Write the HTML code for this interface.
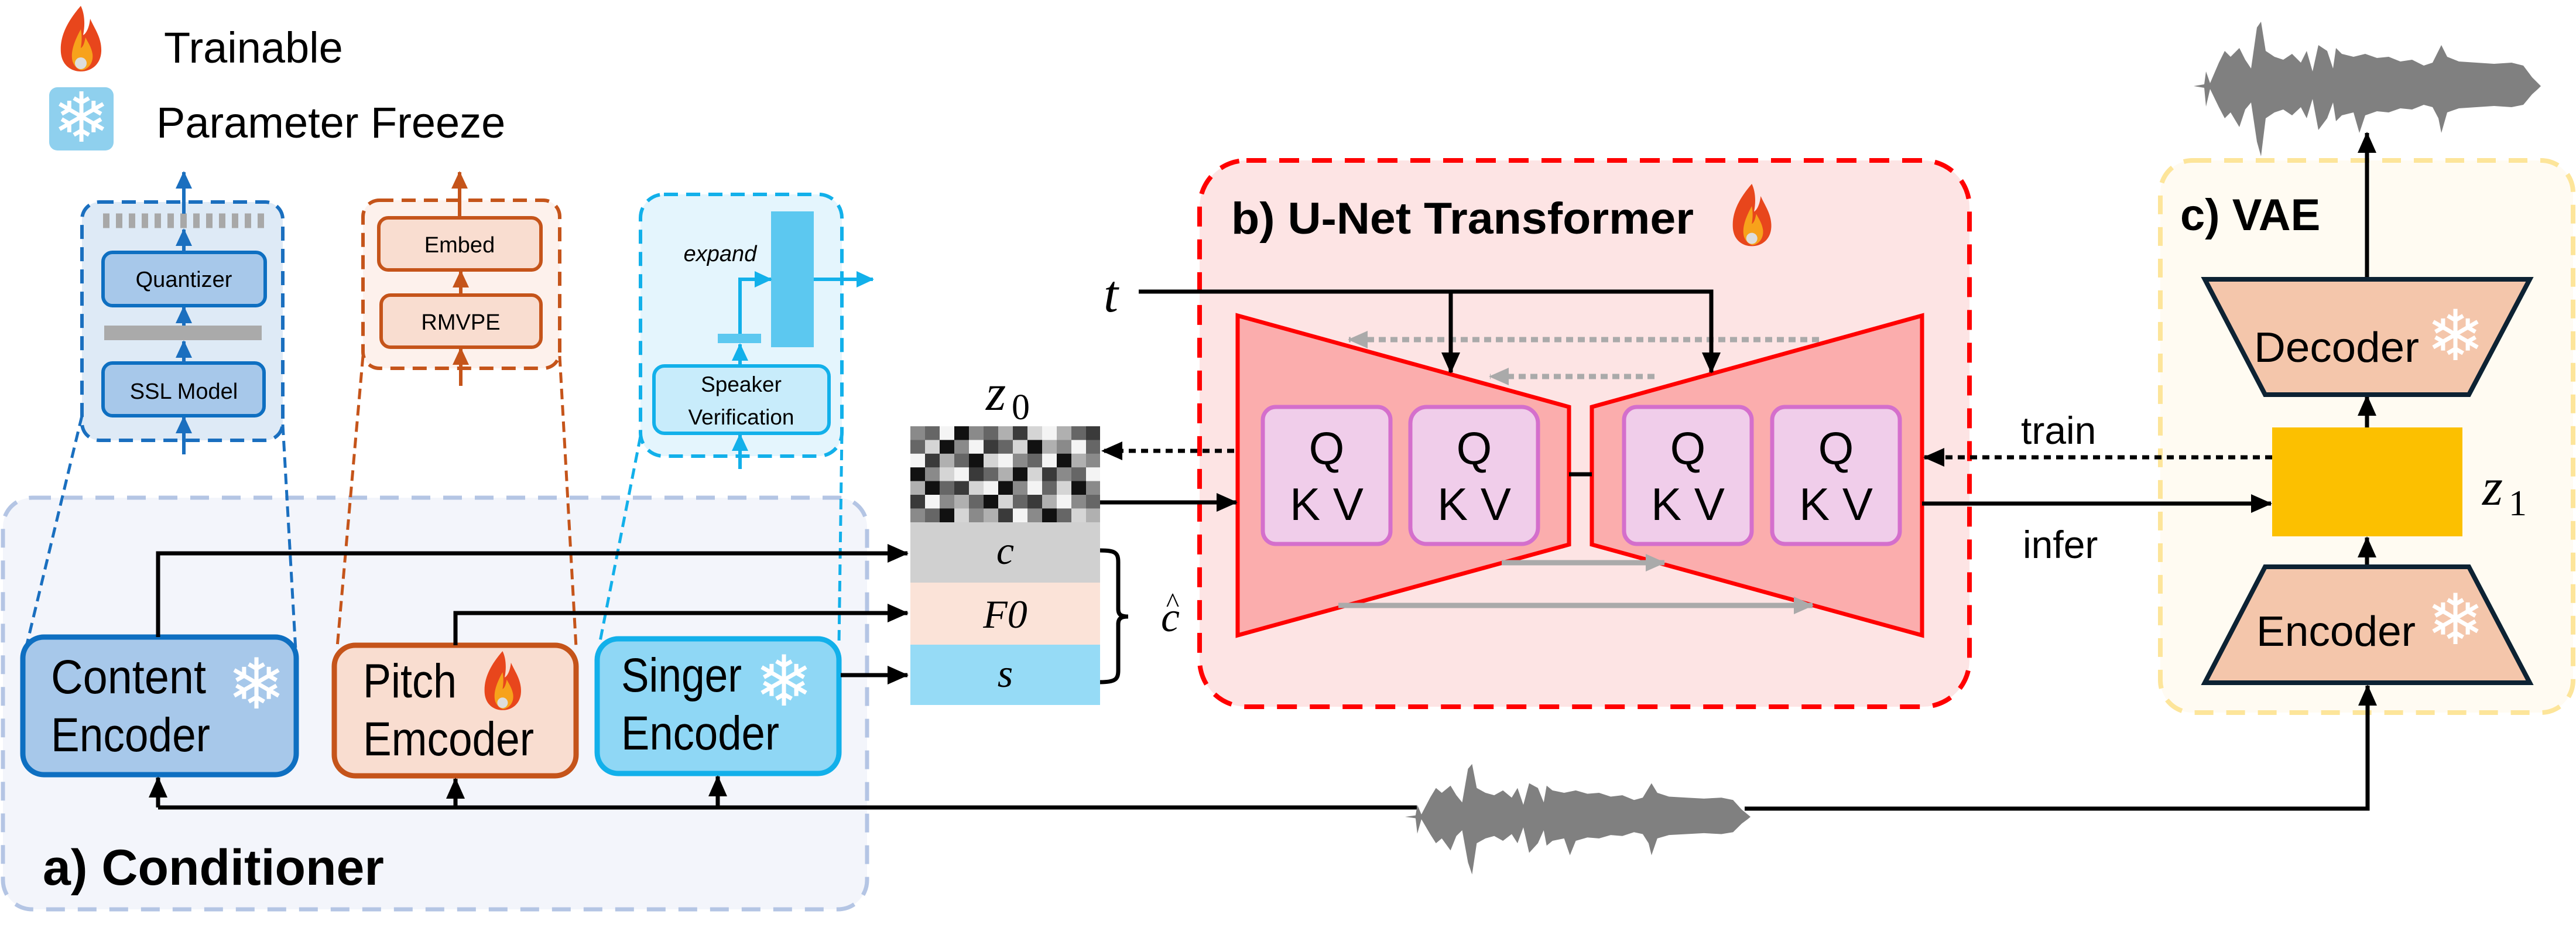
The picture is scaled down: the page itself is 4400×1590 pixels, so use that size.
<!DOCTYPE html>
<html><head><meta charset="utf-8"><style>html,body{margin:0;padding:0;background:#fff}svg{display:block}</style></head><body>
<svg width="4400" height="1590" viewBox="0 0 4400 1590" xmlns="http://www.w3.org/2000/svg" font-family="Liberation Sans, sans-serif">
<defs>
<marker id="ab" markerUnits="userSpaceOnUse" markerWidth="36" markerHeight="32" refX="34" refY="16" orient="auto"><path d="M0,0 L36,16 L0,32 Z" fill="#000"/></marker>
<marker id="ag" markerUnits="userSpaceOnUse" markerWidth="34" markerHeight="30" refX="32" refY="15" orient="auto"><path d="M0,0 L34,15 L0,30 Z" fill="#aaa"/></marker>
<marker id="abl" markerUnits="userSpaceOnUse" markerWidth="30" markerHeight="28" refX="28" refY="14" orient="auto"><path d="M0,0 L30,14 L0,28 Z" fill="#1a6fbf"/></marker>
<marker id="aor" markerUnits="userSpaceOnUse" markerWidth="30" markerHeight="28" refX="28" refY="14" orient="auto"><path d="M0,0 L30,14 L0,28 Z" fill="#c5541a"/></marker>
<marker id="acy" markerUnits="userSpaceOnUse" markerWidth="30" markerHeight="28" refX="28" refY="14" orient="auto"><path d="M0,0 L30,14 L0,28 Z" fill="#12b0ea"/></marker>
</defs>

<!-- legend -->
<g transform="translate(102,10)">
<path d="M36,0 C10,30 0,55 2,80 C4,102 20,112 36,112 C54,112 70,100 71,78 C72,55 60,40 52,22 C50,40 44,48 40,50 C44,30 42,12 36,0 Z" fill="#e8461c"/>
<path d="M36,40 C24,62 18,80 22,95 C26,106 34,110 38,110 C50,108 58,96 56,82 C54,70 48,62 44,54 C42,64 40,70 36,72 C38,60 38,50 36,40 Z" fill="#f7a21b"/>
<circle cx="36" cy="98" r="10" fill="#ddd"/>
</g>
<text x="280" y="107" font-size="74">Trainable</text>
<rect x="84" y="149" width="110" height="108" rx="14" fill="#8fd0ee"/>
<text x="139" y="242" font-size="118" fill="#fff" text-anchor="middle">❄</text>
<text x="267" y="235" font-size="74">Parameter Freeze</text>

<!-- conditioner -->
<rect x="5" y="850" width="1476" height="703" rx="50" fill="#f3f5fb" stroke="#b4c5e4" stroke-width="7" stroke-dasharray="32,22"/>

<!-- content detail -->
<rect x="140" y="345" width="343" height="407" rx="30" fill="#deeaf6" stroke="#1a6fbf" stroke-width="6" stroke-dasharray="24,14"/>
<line x1="176" y1="377" x2="451" y2="377" stroke="#a8a8a8" stroke-width="25" stroke-dasharray="11,11"/>
<rect x="176" y="431" width="277" height="91" rx="16" fill="#a7c8ea" stroke="#0e6fc1" stroke-width="6"/>
<text x="314" y="490" font-size="38" text-anchor="middle">Quantizer</text>
<rect x="178" y="556" width="269" height="25" fill="#aaa"/>
<rect x="176" y="620" width="275" height="90" rx="16" fill="#a7c8ea" stroke="#0e6fc1" stroke-width="6"/>
<text x="314" y="681" font-size="38" text-anchor="middle">SSL Model</text>
<g stroke="#1a6fbf" stroke-width="6" marker-end="url(#abl)">
<line x1="314" y1="776" x2="314" y2="712"/><line x1="314" y1="620" x2="314" y2="583"/><line x1="314" y1="556" x2="314" y2="524"/><line x1="314" y1="431" x2="314" y2="392"/><line x1="314" y1="365" x2="314" y2="294"/>
</g>

<!-- pitch detail -->
<rect x="620" y="342" width="336" height="287" rx="28" fill="#fdf1ec" stroke="#c5541a" stroke-width="6" stroke-dasharray="24,14"/>
<rect x="647" y="372" width="277" height="89" rx="16" fill="#f9ddd0" stroke="#c5541a" stroke-width="6"/>
<text x="785" y="431" font-size="38" text-anchor="middle">Embed</text>
<rect x="651" y="504" width="273" height="89" rx="16" fill="#f9ddd0" stroke="#c5541a" stroke-width="6"/>
<text x="787" y="563" font-size="38" text-anchor="middle">RMVPE</text>
<g stroke="#c5541a" stroke-width="6" marker-end="url(#aor)">
<line x1="787" y1="659" x2="787" y2="595"/><line x1="787" y1="504" x2="787" y2="463"/><line x1="785" y1="372" x2="785" y2="294"/>
</g>

<!-- speaker detail -->
<rect x="1094" y="332" width="344" height="447" rx="40" fill="#e4f5fd" stroke="#12b0ea" stroke-width="6" stroke-dasharray="24,14"/>
<rect x="1317" y="361" width="73" height="232" fill="#5cc8f0"/>
<rect x="1226" y="570" width="74" height="16" fill="#5cc8f0"/>
<text x="1230" y="446" font-size="38" font-style="italic" text-anchor="middle">expand</text>
<rect x="1117" y="625" width="299" height="115" rx="18" fill="#c8ecfb" stroke="#12b0ea" stroke-width="6"/>
<text x="1266" y="669" font-size="37" text-anchor="middle">Speaker</text>
<text x="1266" y="725" font-size="37" text-anchor="middle">Verification</text>
<g stroke="#12b0ea" stroke-width="6" fill="none">
<line x1="1264" y1="801" x2="1264" y2="742" marker-end="url(#acy)"/>
<line x1="1264" y1="625" x2="1264" y2="588" marker-end="url(#acy)"/>
<polyline points="1264,570 1264,477 1317,477" marker-end="url(#acy)"/>
<line x1="1390" y1="477" x2="1491" y2="477" marker-end="url(#acy)"/>
</g>

<!-- zoom dashed connectors -->
<g stroke-width="5" stroke-dasharray="18,10" fill="none">
<line x1="140" y1="710" x2="46" y2="1100" stroke="#1a6fbf"/><line x1="483" y1="725" x2="505" y2="1110" stroke="#1a6fbf"/>
<line x1="620" y1="608" x2="576" y2="1105" stroke="#c5541a"/><line x1="956" y1="608" x2="984" y2="1105" stroke="#c5541a"/>
<line x1="1094" y1="745" x2="1025" y2="1095" stroke="#12b0ea"/><line x1="1438" y1="740" x2="1433" y2="1100" stroke="#12b0ea"/>
</g>

<!-- encoders -->
<rect x="39" y="1088" width="467" height="235" rx="36" fill="#a7c8ea" stroke="#0e6fc1" stroke-width="9"/>
<text x="87" y="1184" font-size="82" textLength="265" lengthAdjust="spacingAndGlyphs">Content</text>
<text x="87" y="1283" font-size="82" textLength="272" lengthAdjust="spacingAndGlyphs">Encoder</text>
<text x="438" y="1210" font-size="120" fill="#fff" text-anchor="middle">❄</text>
<rect x="571" y="1102" width="413" height="223" rx="36" fill="#f9ddd0" stroke="#c5541a" stroke-width="9"/>
<text x="620" y="1191" font-size="82" textLength="160" lengthAdjust="spacingAndGlyphs">Pitch</text>
<text x="620" y="1290" font-size="82" textLength="292" lengthAdjust="spacingAndGlyphs">Emcoder</text>
<g transform="translate(826,1112) scale(0.9)">
<path d="M36,0 C10,30 0,55 2,80 C4,102 20,112 36,112 C54,112 70,100 71,78 C72,55 60,40 52,22 C50,40 44,48 40,50 C44,30 42,12 36,0 Z" fill="#e8461c"/>
<path d="M36,40 C24,62 18,80 22,95 C26,106 34,110 38,110 C50,108 58,96 56,82 C54,70 48,62 44,54 C42,64 40,70 36,72 C38,60 38,50 36,40 Z" fill="#f7a21b"/>
<circle cx="36" cy="98" r="10" fill="#ddd"/></g>
<rect x="1020" y="1091" width="413" height="230" rx="36" fill="#8fd7f5" stroke="#12b0ea" stroke-width="9"/>
<text x="1061" y="1181" font-size="82" textLength="206" lengthAdjust="spacingAndGlyphs">Singer</text>
<text x="1061" y="1280" font-size="82" textLength="270" lengthAdjust="spacingAndGlyphs">Encoder</text>
<text x="1339" y="1205" font-size="120" fill="#fff" text-anchor="middle">❄</text>
<text x="73" y="1511" font-size="86" font-weight="bold">a) Conditioner</text>

<!-- U-Net -->
<rect x="2049" y="274" width="1315" height="933" rx="80" fill="#fde4e4" stroke="#ff0000" stroke-width="8" stroke-dasharray="34,22"/>
<text x="2103" y="399" font-size="76" font-weight="bold" textLength="790" lengthAdjust="spacingAndGlyphs">b) U-Net Transformer</text>
<g transform="translate(2958,314) scale(0.95)">
<path d="M36,0 C10,30 0,55 2,80 C4,102 20,112 36,112 C54,112 70,100 71,78 C72,55 60,40 52,22 C50,40 44,48 40,50 C44,30 42,12 36,0 Z" fill="#e8461c"/>
<path d="M36,40 C24,62 18,80 22,95 C26,106 34,110 38,110 C50,108 58,96 56,82 C54,70 48,62 44,54 C42,64 40,70 36,72 C38,60 38,50 36,40 Z" fill="#f7a21b"/>
<circle cx="36" cy="98" r="10" fill="#ddd"/></g>
<polygon points="2114,539 2680,695 2680,930 2114,1085" fill="#fbadad" stroke="#ff0000" stroke-width="7"/>
<polygon points="2719,695 3283,539 3283,1085 2719,930" fill="#fbadad" stroke="#ff0000" stroke-width="7"/>
<line x1="2680" y1="810" x2="2719" y2="810" stroke="#000" stroke-width="7"/>
<g fill="#f0cdea" stroke="#d46fcc" stroke-width="7">
<rect x="2157" y="695" width="218" height="234" rx="22"/><rect x="2409" y="695" width="218" height="234" rx="28"/>
<rect x="2774" y="695" width="218" height="234" rx="22"/><rect x="3027" y="695" width="218" height="234" rx="22"/>
</g>
<g font-size="78" text-anchor="middle">
<text x="2266" y="793">Q</text><text x="2266" y="888">K V</text>
<text x="2518" y="793">Q</text><text x="2518" y="888">K V</text>
<text x="2883" y="793">Q</text><text x="2883" y="888">K V</text>
<text x="3136" y="793">Q</text><text x="3136" y="888">K V</text>
</g>
<g stroke="#aaa" stroke-width="9" fill="none">
<line x1="3107" y1="580" x2="2304" y2="580" stroke-dasharray="12,8" marker-end="url(#ag)"/>
<line x1="2826" y1="643" x2="2545" y2="643" stroke-dasharray="12,8" marker-end="url(#ag)"/>
<line x1="2565" y1="961" x2="2843" y2="961" marker-end="url(#ag)"/>
<line x1="2286" y1="1034" x2="3096" y2="1034" marker-end="url(#ag)"/>
</g>
<text x="1885" y="532" font-size="90" font-style="italic" font-family="Liberation Serif, serif">t</text>
<g stroke="#000" stroke-width="7" fill="none">
<polyline points="1945,498 2923,498 2923,636" marker-end="url(#ab)"/>
<line x1="2478" y1="498" x2="2478" y2="636" marker-end="url(#ab)"/>
</g>

<!-- VAE box (drawn before connectors) -->
<rect x="3690" y="274" width="705" height="943" rx="55" fill="#fffbf2" stroke="#fde59a" stroke-width="8" stroke-dasharray="32,22"/>

<!-- z0 stack -->
<text x="1684" y="700" font-size="88" font-style="italic" font-family="Liberation Serif, serif">z</text>
<text x="1728" y="716" font-size="62" font-family="Liberation Serif, serif">0</text>
<g transform="translate(1555,728)">
<rect x="0" y="0" width="324" height="164" fill="#888"/>
<rect x="0" y="0" width="25" height="24" fill="#8a8a8a"/><rect x="25" y="0" width="25" height="24" fill="#666"/><rect x="50" y="0" width="25" height="24" fill="#f4f4f4"/><rect x="75" y="0" width="25" height="24" fill="#111"/><rect x="100" y="0" width="25" height="24" fill="#8a8a8a"/><rect x="125" y="0" width="25" height="24" fill="#666"/><rect x="150" y="0" width="25" height="24" fill="#b0b0b0"/><rect x="175" y="0" width="25" height="24" fill="#3a3a3a"/><rect x="200" y="0" width="25" height="24" fill="#d5d5d5"/><rect x="225" y="0" width="25" height="24" fill="#f4f4f4"/><rect x="250" y="0" width="25" height="24" fill="#b0b0b0"/><rect x="275" y="0" width="25" height="24" fill="#666"/><rect x="300" y="0" width="24" height="24" fill="#3a3a3a"/>
<rect x="0" y="23.4" width="25" height="24" fill="#666"/><rect x="25" y="23.4" width="25" height="24" fill="#d5d5d5"/><rect x="50" y="23.4" width="25" height="24" fill="#111"/><rect x="75" y="23.4" width="25" height="24" fill="#8a8a8a"/><rect x="100" y="23.4" width="25" height="24" fill="#f4f4f4"/><rect x="125" y="23.4" width="25" height="24" fill="#3a3a3a"/><rect x="150" y="23.4" width="25" height="24" fill="#666"/><rect x="175" y="23.4" width="25" height="24" fill="#d5d5d5"/><rect x="200" y="23.4" width="25" height="24" fill="#111"/><rect x="225" y="23.4" width="25" height="24" fill="#b0b0b0"/><rect x="250" y="23.4" width="25" height="24" fill="#8a8a8a"/><rect x="275" y="23.4" width="25" height="24" fill="#f4f4f4"/><rect x="300" y="23.4" width="24" height="24" fill="#666"/>
<rect x="0" y="46.8" width="25" height="24" fill="#f4f4f4"/><rect x="25" y="46.8" width="25" height="24" fill="#3a3a3a"/><rect x="50" y="46.8" width="25" height="24" fill="#b0b0b0"/><rect x="75" y="46.8" width="25" height="24" fill="#666"/><rect x="100" y="46.8" width="25" height="24" fill="#111"/><rect x="125" y="46.8" width="25" height="24" fill="#d5d5d5"/><rect x="150" y="46.8" width="25" height="24" fill="#f4f4f4"/><rect x="175" y="46.8" width="25" height="24" fill="#8a8a8a"/><rect x="200" y="46.8" width="25" height="24" fill="#666"/><rect x="225" y="46.8" width="25" height="24" fill="#f4f4f4"/><rect x="250" y="46.8" width="25" height="24" fill="#111"/><rect x="275" y="46.8" width="25" height="24" fill="#b0b0b0"/><rect x="300" y="46.8" width="24" height="24" fill="#8a8a8a"/>
<rect x="0" y="70.2" width="25" height="24" fill="#111"/><rect x="25" y="70.2" width="25" height="24" fill="#8a8a8a"/><rect x="50" y="70.2" width="25" height="24" fill="#d5d5d5"/><rect x="75" y="70.2" width="25" height="24" fill="#f4f4f4"/><rect x="100" y="70.2" width="25" height="24" fill="#3a3a3a"/><rect x="125" y="70.2" width="25" height="24" fill="#666"/><rect x="150" y="70.2" width="25" height="24" fill="#b0b0b0"/><rect x="175" y="70.2" width="25" height="24" fill="#111"/><rect x="200" y="70.2" width="25" height="24" fill="#d5d5d5"/><rect x="225" y="70.2" width="25" height="24" fill="#3a3a3a"/><rect x="250" y="70.2" width="25" height="24" fill="#8a8a8a"/><rect x="275" y="70.2" width="25" height="24" fill="#666"/><rect x="300" y="70.2" width="24" height="24" fill="#f4f4f4"/>
<rect x="0" y="93.6" width="25" height="24" fill="#b0b0b0"/><rect x="25" y="93.6" width="25" height="24" fill="#111"/><rect x="50" y="93.6" width="25" height="24" fill="#666"/><rect x="75" y="93.6" width="25" height="24" fill="#3a3a3a"/><rect x="100" y="93.6" width="25" height="24" fill="#d5d5d5"/><rect x="125" y="93.6" width="25" height="24" fill="#f4f4f4"/><rect x="150" y="93.6" width="25" height="24" fill="#111"/><rect x="175" y="93.6" width="25" height="24" fill="#8a8a8a"/><rect x="200" y="93.6" width="25" height="24" fill="#f4f4f4"/><rect x="225" y="93.6" width="25" height="24" fill="#666"/><rect x="250" y="93.6" width="25" height="24" fill="#d5d5d5"/><rect x="275" y="93.6" width="25" height="24" fill="#111"/><rect x="300" y="93.6" width="24" height="24" fill="#8a8a8a"/>
<rect x="0" y="117" width="25" height="24" fill="#3a3a3a"/><rect x="25" y="117" width="25" height="24" fill="#f4f4f4"/><rect x="50" y="117" width="25" height="24" fill="#8a8a8a"/><rect x="75" y="117" width="25" height="24" fill="#b0b0b0"/><rect x="100" y="117" width="25" height="24" fill="#666"/><rect x="125" y="117" width="25" height="24" fill="#111"/><rect x="150" y="117" width="25" height="24" fill="#d5d5d5"/><rect x="175" y="117" width="25" height="24" fill="#666"/><rect x="200" y="117" width="25" height="24" fill="#3a3a3a"/><rect x="225" y="117" width="25" height="24" fill="#b0b0b0"/><rect x="250" y="117" width="25" height="24" fill="#f4f4f4"/><rect x="275" y="117" width="25" height="24" fill="#8a8a8a"/><rect x="300" y="117" width="24" height="24" fill="#666"/>
<rect x="0" y="140.4" width="25" height="23.6" fill="#8a8a8a"/><rect x="25" y="140.4" width="25" height="23.6" fill="#666"/><rect x="50" y="140.4" width="25" height="23.6" fill="#111"/><rect x="75" y="140.4" width="25" height="23.6" fill="#d5d5d5"/><rect x="100" y="140.4" width="25" height="23.6" fill="#8a8a8a"/><rect x="125" y="140.4" width="25" height="23.6" fill="#b0b0b0"/><rect x="150" y="140.4" width="25" height="23.6" fill="#3a3a3a"/><rect x="175" y="140.4" width="25" height="23.6" fill="#f4f4f4"/><rect x="200" y="140.4" width="25" height="23.6" fill="#8a8a8a"/><rect x="225" y="140.4" width="25" height="23.6" fill="#111"/><rect x="250" y="140.4" width="25" height="23.6" fill="#666"/><rect x="275" y="140.4" width="25" height="23.6" fill="#d5d5d5"/><rect x="300" y="140.4" width="24" height="23.6" fill="#b0b0b0"/>
</g>
<rect x="1555" y="892" width="324" height="103" fill="#d0d0d0"/>
<rect x="1555" y="995" width="324" height="106" fill="#fbe3d8"/>
<rect x="1555" y="1101" width="324" height="103" fill="#96dbf6"/>
<g font-family="Liberation Serif, serif" font-style="italic" font-size="68" text-anchor="middle">
<text x="1717" y="963">c</text><text x="1717" y="1072">F0</text><text x="1717" y="1173">s</text>
</g>
<path d="M1879,940 C1905,940 1910,944 1910,960 L1910,1040 C1910,1050 1915,1053 1927,1053 C1915,1053 1910,1056 1910,1066 L1910,1145 C1910,1160 1905,1165 1879,1165" fill="none" stroke="#000" stroke-width="7"/>
<text x="1999" y="1078" font-family="Liberation Serif, serif" font-style="italic" font-size="72" text-anchor="middle">c</text>
<text x="2003" y="1045" font-family="Liberation Serif, serif" font-size="48" text-anchor="middle">^</text>

<!-- main black connectors -->
<g stroke="#000" stroke-width="7" fill="none">
<polyline points="270,1088 270,945 1550,945" marker-end="url(#ab)"/>
<polyline points="778,1102 778,1047 1550,1047" marker-end="url(#ab)"/>
<line x1="1436" y1="1153" x2="1550" y2="1153" marker-end="url(#ab)"/>
<line x1="270" y1="1379" x2="2420" y2="1379"/>
<line x1="270" y1="1379" x2="270" y2="1328" marker-end="url(#ab)"/>
<line x1="778" y1="1379" x2="778" y2="1330" marker-end="url(#ab)"/>
<line x1="1226" y1="1379" x2="1226" y2="1326" marker-end="url(#ab)"/>
<line x1="1879" y1="858" x2="2112" y2="858" marker-end="url(#ab)"/>
<line x1="2108" y1="770" x2="1883" y2="770" stroke-dasharray="12,9" marker-end="url(#ab)"/>
<polyline points="2980,1381 4044,1381 4044,1171" marker-end="url(#ab)"/>
<line x1="3283" y1="860" x2="3879" y2="860" marker-end="url(#ab)"/>
<line x1="3881" y1="781" x2="3287" y2="781" stroke-dasharray="12,9" marker-end="url(#ab)"/>
<line x1="4043" y1="477" x2="4043" y2="227" marker-end="url(#ab)"/>
<line x1="4043" y1="730" x2="4043" y2="676" marker-end="url(#ab)"/>
<line x1="4043" y1="968" x2="4043" y2="918" marker-end="url(#ab)"/>
</g>

<!-- VAE contents -->
<text x="3724" y="393" font-size="76" font-weight="bold">c) VAE</text>
<polygon points="3766,477 4321,477 4217,674 3869,674" fill="#f4c6ab" stroke="#0d2233" stroke-width="8"/>
<text x="3850" y="618" font-size="72" textLength="282" lengthAdjust="spacingAndGlyphs">Decoder</text>
<text x="4194" y="615" font-size="120" fill="#fff" text-anchor="middle">❄</text>
<rect x="3881" y="730" width="325" height="186" fill="#fcc000"/>
<polygon points="3869,968 4217,968 4321,1166 3766,1166" fill="#f4c6ab" stroke="#0d2233" stroke-width="8"/>
<text x="3854" y="1103" font-size="72" textLength="272" lengthAdjust="spacingAndGlyphs">Encoder</text>
<text x="4194" y="1100" font-size="120" fill="#fff" text-anchor="middle">❄</text>
<text x="4240" y="862" font-size="90" font-style="italic" font-family="Liberation Serif, serif">z</text>
<text x="4285" y="880" font-size="62" font-family="Liberation Serif, serif">1</text>
<text x="3452" y="758" font-size="66">train</text>
<text x="3455" y="953" font-size="66">infer</text>

<!-- waveforms -->
<path transform="translate(3747,147)" fill="#808080" d="M0,0 L18,-3 L21,-25 L28,-5 L43,-40 L53,-60 L63,-50 L78,-65 L88,-45 L98,-30 L108,-100 L115,-110 L123,-60 L138,-50 L153,-45 L168,-55 L183,-40 L193,-60 L203,-25 L213,-70 L228,-60 L238,-30 L243,-65 L253,-55 L273,-50 L293,-55 L313,-48 L333,-50 L353,-42 L373,-45 L393,-35 L408,-40 L418,-60 L423,-70 L433,-50 L453,-42 L483,-40 L513,-38 L543,-40 L563,-35 L578,-15 L588,-5 L593,0 L588,5 L578,14 L563,32 L543,36 L513,34 L483,36 L453,38 L433,45 L423,80 L418,55 L408,36 L393,32 L373,40 L353,38 L333,45 L313,43 L293,50 L283,80 L273,45 L253,50 L243,60 L238,28 L228,55 L213,75 L203,22 L193,55 L183,36 L168,50 L153,40 L138,45 L123,55 L115,120 L108,95 L98,28 L88,40 L78,70 L63,45 L53,55 L43,36 L28,5 L21,35 L18,3 Z"/>
<path transform="translate(2400,1395) scale(0.995,0.82)" fill="#808080" d="M0,0 L18,-3 L21,-25 L28,-5 L43,-40 L53,-60 L63,-50 L78,-65 L88,-45 L98,-30 L108,-100 L115,-110 L123,-60 L138,-50 L153,-45 L168,-55 L183,-40 L193,-60 L203,-25 L213,-70 L228,-60 L238,-30 L243,-65 L253,-55 L273,-50 L293,-55 L313,-48 L333,-50 L353,-42 L373,-45 L393,-35 L408,-40 L418,-60 L423,-70 L433,-50 L453,-42 L483,-40 L513,-38 L543,-40 L563,-35 L578,-15 L588,-5 L593,0 L588,5 L578,14 L563,32 L543,36 L513,34 L483,36 L453,38 L433,45 L423,80 L418,55 L408,36 L393,32 L373,40 L353,38 L333,45 L313,43 L293,50 L283,80 L273,45 L253,50 L243,60 L238,28 L228,55 L213,75 L203,22 L193,55 L183,36 L168,50 L153,40 L138,45 L123,55 L115,120 L108,95 L98,28 L88,40 L78,70 L63,45 L53,55 L43,36 L28,5 L21,35 L18,3 Z"/>
</svg>
</body></html>
